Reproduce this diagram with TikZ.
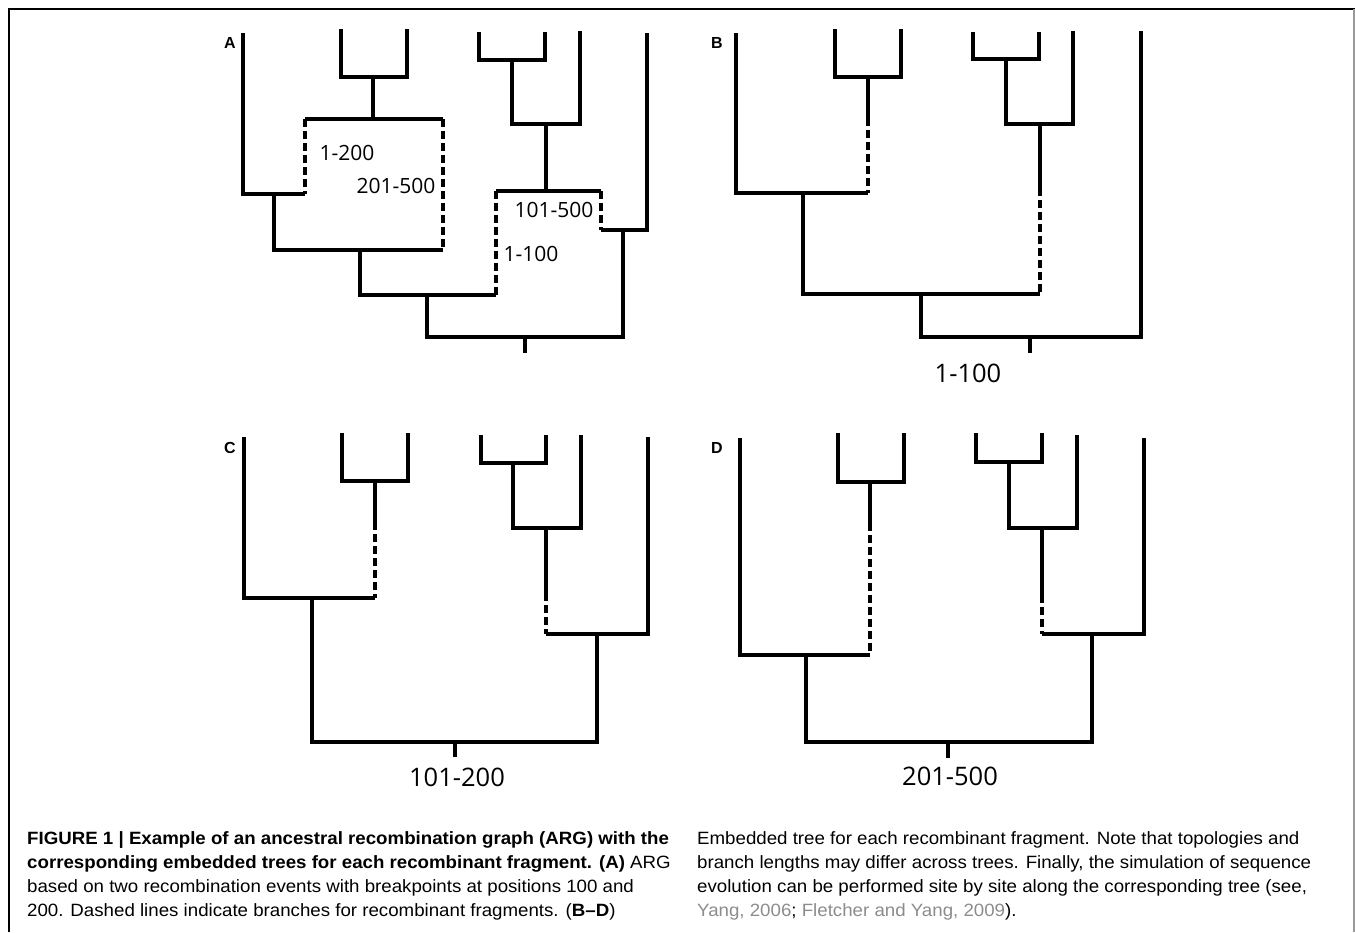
\documentclass[tikz,border=0pt]{standalone}
\usepackage{fontspec}
\setmainfont{Open Sans}
\newfontfamily\capfont[FakeStretch=1.05]{Liberation Sans}
\newfontfamily\tagfont{Liberation Sans}
\usepackage{tikz}
\usetikzlibrary{positioning}
\definecolor{citegray}{gray}{0.55}

\begin{document}
\begin{tikzpicture}[x=1pt, y=-1pt,
        br/.style={line width=3.1pt},
        rb/.style={line width=3.1pt, dash pattern=on 7.5pt off 4.5pt},
        tag/.style={font=\tagfont\fontsize{16}{16}\selectfont\bfseries, inner sep=0pt},
        lab/.style={font=\fontsize{21}{24}\selectfont, inner sep=0pt},
        big/.style={font=\fontsize{25.5}{30}\selectfont, inner sep=0pt},
        captxt/.style={font=\capfont\fontsize{17.8}{21}\selectfont, inner sep=0pt, anchor=base west},
    ]
        \useasboundingbox (0,0) rectangle (1355,932);
        % frame
        \draw[line width=2pt] (9,932) -- (9,9) -- (1355,9);
        \draw[black!40, line width=2pt] (1354,9) -- (1354,932);

        % A: the ARG
        \node[tag] (tA) at (230,43) {A};
        \coordinate (A1) at (243,33);  \coordinate (A2) at (341,29);  \coordinate (A3) at (407,29);
        \coordinate (A4) at (479,32);  \coordinate (A5) at (545,32);  \coordinate (A6) at (580,31);
        \coordinate (A7) at (647,33);
        \coordinate (Ac) at (373,77);  \coordinate (Ar) at (373,119);
        \coordinate (ArL) at (305,119); \coordinate (ArR) at (443,119);
        \coordinate (Al) at (274,194); \coordinate (Am) at (360,250); \coordinate (An) at (427,295);
        \coordinate (Ad) at (512,60);  \coordinate (Ae) at (546,124); \coordinate (As) at (546,191);
        \coordinate (AsL) at (496,191); \coordinate (AsR) at (601,191);
        \coordinate (Aq) at (623,230); \coordinate (Ao) at (525,337);
        \draw[br] (A2) |- (Ac) -| (A3);
        \draw[br] (Ac) -- (Ar);
        \draw[br] (ArL) -- (ArR);
        \draw[rb] (ArL) -- (ArL |- Al);
        \draw[rb] (ArR) -- (ArR |- Am);
        \draw[br] (A1) |- (Al) -- (ArL |- Al);
        \draw[br] (Al) |- (Am) -- (ArR |- Am);
        \draw[br] (Am) |- (An) -- (AsL |- An);
        \draw[br] (A4) |- (Ad) -| (A5);
        \draw[br] (Ad) |- (Ae) -| (A6);
        \draw[br] (Ae) -- (As);
        \draw[br] (AsL) -- (AsR);
        \draw[rb] (AsL) -- (AsL |- An);
        \draw[rb] (AsR) -- (AsR |- Aq);
        \draw[br] (AsR |- Aq) -- (Aq) -| (A7);
        \draw[br] (An) |- (Ao) -| (Aq);
        \draw[br] (Ao) -- ++(0,16);
        \node[lab] (lA1) at (347,153) {1-200};
        \node[lab] (lA2) at (396,186) {201-500};
        \node[lab] (lA3) at (554,210) {101-500};
        \node[lab] (lA4) at (531,254) {1-100};

        % B: tree for 1-100
        \node[tag] (tB) at (717,43) {B};
        \coordinate (B1) at (736,33);  \coordinate (B2) at (835,29);  \coordinate (B3) at (901,29);
        \coordinate (B4) at (973,32);  \coordinate (B5) at (1039,32); \coordinate (B6) at (1073,31);
        \coordinate (B7) at (1141,31);
        \coordinate (Bc) at (868,77);  \coordinate (Bk) at (868,118); \coordinate (Bl) at (803,193);
        \coordinate (Bd) at (1006,59); \coordinate (Be) at (1040,124); \coordinate (Bk2) at (1040,188);
        \coordinate (Bm) at (921,294); \coordinate (Bo) at (1030,337);
        \draw[br] (B2) |- (Bc) -| (B3);
        \draw[br] (Bc) -- (Bk);
        \draw[rb] (Bk) -- (Bk |- Bl);
        \draw[br] (B1) |- (Bl) -- (Bk |- Bl);
        \draw[br] (B4) |- (Bd) -| (B5);
        \draw[br] (Bd) |- (Be) -| (B6);
        \draw[br] (Be) -- (Bk2);
        \draw[rb] (Bk2) -- (Bk2 |- Bm);
        \draw[br] (Bl) |- (Bm) -- (Bk2 |- Bm);
        \draw[br] (Bm) |- (Bo) -| (B7);
        \draw[br] (Bo) -- ++(0,16);
        \node[big] (lB) at (968,373) {1-100};

        % C: tree for 101-200
        \node[tag] (tC) at (230,448) {C};
        \coordinate (C1) at (244,437); \coordinate (C2) at (342,433); \coordinate (C3) at (408,433);
        \coordinate (C4) at (481,435); \coordinate (C5) at (546,435); \coordinate (C6) at (581,435);
        \coordinate (C7) at (648,437);
        \coordinate (Cc) at (375,481); \coordinate (Ck) at (375,522); \coordinate (Cl) at (312,598);
        \coordinate (Cd) at (513,463); \coordinate (Ce) at (546,528); \coordinate (Ck2) at (546,593);
        \coordinate (Cq) at (597,634); \coordinate (Co) at (455,742);
        \draw[br] (C2) |- (Cc) -| (C3);
        \draw[br] (Cc) -- (Ck);
        \draw[rb] (Ck) -- (Ck |- Cl);
        \draw[br] (C1) |- (Cl) -- (Ck |- Cl);
        \draw[br] (C4) |- (Cd) -| (C5);
        \draw[br] (Cd) |- (Ce) -| (C6);
        \draw[br] (Ce) -- (Ck2);
        \draw[rb] (Ck2) -- (Ck2 |- Cq);
        \draw[br] (Ck2 |- Cq) -- (Cq) -| (C7);
        \draw[br] (Cl) |- (Co) -| (Cq);
        \draw[br] (Co) -- ++(0,15);
        \node[big] (lC) at (457,777) {101-200};

        % D: tree for 201-500
        \node[tag] (tD) at (717,448) {D};
        \coordinate (D1) at (740,438); \coordinate (D2) at (838,433); \coordinate (D3) at (904,433);
        \coordinate (D4) at (976,433); \coordinate (D5) at (1042,433); \coordinate (D6) at (1077,435);
        \coordinate (D7) at (1144,438);
        \coordinate (Dc) at (870,482); \coordinate (Dk) at (870,523); \coordinate (Dl) at (806,655);
        \coordinate (Dd) at (1009,462); \coordinate (De) at (1042,528); \coordinate (Dk2) at (1042,595);
        \coordinate (Dq) at (1092,634); \coordinate (Do) at (948,742);
        \draw[br] (D2) |- (Dc) -| (D3);
        \draw[br] (Dc) -- (Dk);
        \draw[rb] (Dk) -- (Dk |- Dl);
        \draw[br] (D1) |- (Dl) -- (Dk |- Dl);
        \draw[br] (D4) |- (Dd) -| (D5);
        \draw[br] (Dd) |- (De) -| (D6);
        \draw[br] (De) -- (Dk2);
        \draw[rb] (Dk2) -- (Dk2 |- Dq);
        \draw[br] (Dk2 |- Dq) -- (Dq) -| (D7);
        \draw[br] (Dl) |- (Do) -| (Dq);
        \draw[br] (Do) -- ++(0,16);
        \node[big] (lD) at (950,776) {201-500};

        % caption
        \node[captxt] (c1) at (27,844) {\bfseries FIGURE 1 | Example of an ancestral recombination graph (ARG) with the};
        \node[captxt] (c2) at (27,868) {\bfseries corresponding embedded trees for each recombinant fragment. (A)\mdseries{} ARG};
        \node[captxt] (c3) at (27,892) {based on two recombination events with breakpoints at positions 100 and};
        \node[captxt] (c4) at (27,916) {200. Dashed lines indicate branches for recombinant fragments. (\textbf{B–D})};
        \node[captxt] (d1) at (697,844) {Embedded tree for each recombinant fragment. Note that topologies and};
        \node[captxt] (d2) at (d1.base west |- 0,868) {branch lengths may differ across trees. Finally, the simulation of sequence};
        \node[captxt] (d3) at (d1.base west |- 0,892) {evolution can be performed site by site along the corresponding tree (see,};
        \node[captxt] (d4) at (d1.base west |- 0,916) {\textcolor{citegray}{Yang, 2006}; \textcolor{citegray}{Fletcher and Yang, 2009}).};
    \end{tikzpicture}
\end{document}
